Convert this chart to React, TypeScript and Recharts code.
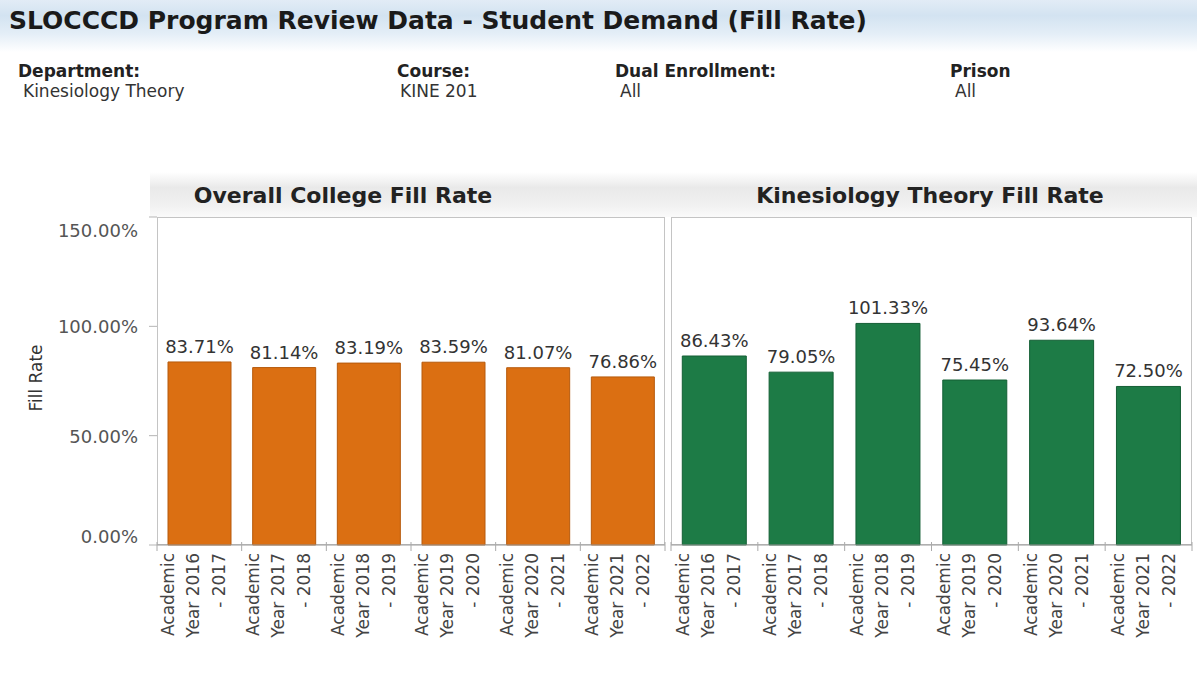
import { BarChart, Bar, XAxis, YAxis, LabelList } from 'recharts'

const FONT = '"DejaVu Sans", sans-serif'

// categories and values
const years = [
  'Academic Year 2016 - 2017',
  'Academic Year 2017 - 2018',
  'Academic Year 2018 - 2019',
  'Academic Year 2019 - 2020',
  'Academic Year 2020 - 2021',
  'Academic Year 2021 - 2022',
]
const collegeFillRate = [0.8371, 0.8114, 0.8319, 0.8359, 0.8107, 0.7686]
const kineFillRate = [0.8643, 0.7905, 1.0133, 0.7545, 0.9364, 0.725]
const yTicks = [0, 0.5, 1, 1.5]

const filterLabels = ['Department:', 'Course:', 'Dual Enrollment:', 'Prison']
const filterValues = ['Kinesiology Theory', 'KINE 201', 'All', 'All']

const pct = (v: number) => (v * 100).toFixed(2) + '%'

const collegeData = years.map((name, i) => ({ name, value: collegeFillRate[i] }))
const kineData = years.map((name, i) => ({ name, value: kineFillRate[i] }))

const YTick = (props: any) => {
  const { x, y, payload } = props
  let dy = 7
  if (payload.value === 1.5) dy = 20
  if (payload.value === 0) dy = -2
  return (
    <text x={x} y={y + dy} textAnchor="end" fontSize={18} fill="#555" fontFamily={FONT}>
      {pct(payload.value)}
    </text>
  )
}

// three line rotated labels + little tick marks on the band edges
const makeXTick = (band: number) => (props: any) => {
  const { x, y, payload, index } = props
  const m = String(payload.value).match(/^(\S+) (Year \d+) (- \d+)$/)
  const lines = m ? [m[1], m[2], m[3]] : [String(payload.value)]
  const offs = [-25, 0, 26]
  const axisY = y - 8
  return (
    <g>
      <line x1={x - band / 2} x2={x - band / 2} y1={axisY - 3} y2={axisY + 6} stroke="#aaa" />
      {index === years.length - 1 && (
        <line x1={x + band / 2} x2={x + band / 2} y1={axisY - 3} y2={axisY + 6} stroke="#aaa" />
      )}
      {lines.map((t, i) => (
        <text
          key={i}
          transform={`translate(${x + offs[i]},${y}) rotate(-90)`}
          textAnchor="end"
          fontSize={17}
          fill="#444"
          fontFamily={FONT}
        >
          {t}
        </text>
      ))}
    </g>
  )
}

const Backdrop = () => (
  <svg width={1197} height={681} style={{ position: 'absolute', left: 0, top: 0 }}>
    <defs>
      <linearGradient id="hdr" x1="0" y1="0" x2="0" y2="1">
        <stop offset="0%" stopColor="#e2ecf6" />
        <stop offset="30%" stopColor="#d3e3f1" />
        <stop offset="65%" stopColor="#e4eef7" />
        <stop offset="100%" stopColor="#ffffff" />
      </linearGradient>
      <linearGradient id="band" x1="0" y1="0" x2="0" y2="1">
        <stop offset="0%" stopColor="#ffffff" />
        <stop offset="35%" stopColor="#e9e9e9" />
        <stop offset="75%" stopColor="#f1f1f1" />
        <stop offset="100%" stopColor="#fafafa" />
      </linearGradient>
    </defs>
    <rect x={0} y={0} width={1197} height={52} fill="url(#hdr)" />
    <text x={9} y={28.5} fontSize={25} fontWeight="bold" fill="#1a1a1a" fontFamily={FONT}>
      SLOCCCD Program Review Data - Student Demand (Fill Rate)
    </text>
    {filterLabels.map((t, i) => (
      <text key={t} x={[18, 397, 615, 950][i]} y={77} fontSize={17} fontWeight="bold" fill="#222" fontFamily={FONT}>
        {t}
      </text>
    ))}
    {filterValues.map((t, i) => (
      <text key={i} x={[23, 400, 620, 955][i]} y={97} fontSize={17} fill="#333" fontFamily={FONT}>
        {t}
      </text>
    ))}
    <rect x={150} y={172} width={1047} height={45} fill="url(#band)" />
    <text x={343} y={203} textAnchor="middle" fontSize={22} fontWeight="bold" fill="#222" fontFamily={FONT}>
      Overall College Fill Rate
    </text>
    <text x={930} y={203} textAnchor="middle" fontSize={22} fontWeight="bold" fill="#222" fontFamily={FONT}>
      Kinesiology Theory Fill Rate
    </text>
    <rect x={157.5} y={217.5} width={507} height={327} fill="#fff" stroke="#c4c4c4" />
    <rect x={671.5} y={217.5} width={520} height={327} fill="#fff" stroke="#c4c4c4" />
    <text transform="translate(42,378) rotate(-90)" textAnchor="middle" fontSize={17} fill="#333" fontFamily={FONT}>
      Fill Rate
    </text>
  </svg>
)

export default function App() {
  return (
    <div style={{ position: 'absolute', left: 0, top: 0, width: 1197, height: 681, background: '#fff', overflow: 'hidden' }}>
      <Backdrop />
      <div style={{ position: 'absolute', left: 0, top: 0 }}>
        <BarChart
          width={668}
          height={681}
          data={collegeData}
          margin={{ top: 217, right: 3, left: 0, bottom: 16 }}
          barCategoryGap="13%"
        >
          <XAxis
            dataKey="name"
            height={120}
            interval={0}
            tickLine={false}
            tickSize={0}
            tickMargin={8}
            axisLine={{ stroke: '#9a9a9a' }}
            tick={makeXTick(508 / 6)}
          />
          <YAxis
            width={157}
            domain={[0, 1.5]}
            ticks={yTicks}
            axisLine={false}
            tickSize={8}
            tickMargin={11}
            tickLine={{ stroke: '#b5b5b5' }}
            tick={<YTick />}
          />
          <Bar dataKey="value" fill="#DB6F12" stroke="#b65a0c" strokeWidth={1} isAnimationActive={false}>
            <LabelList
              dataKey="value"
              position="top"
              offset={9}
              formatter={(v: any) => pct(Number(v))}
              style={{ fontSize: 18, fill: '#333', fontFamily: FONT }}
            />
          </Bar>
        </BarChart>
      </div>
      <div style={{ position: 'absolute', left: 668, top: 0 }}>
        <BarChart
          width={529}
          height={681}
          data={kineData}
          margin={{ top: 217, right: 5, left: 3, bottom: 16 }}
          barCategoryGap="13%"
        >
          <XAxis
            dataKey="name"
            height={120}
            interval={0}
            tickLine={false}
            tickSize={0}
            tickMargin={8}
            axisLine={{ stroke: '#9a9a9a' }}
            tick={makeXTick(521 / 6)}
          />
          <YAxis hide domain={[0, 1.5]} ticks={yTicks} />
          <Bar dataKey="value" fill="#1D7B46" stroke="#145f35" strokeWidth={1} isAnimationActive={false}>
            <LabelList
              dataKey="value"
              position="top"
              offset={9}
              formatter={(v: any) => pct(Number(v))}
              style={{ fontSize: 18, fill: '#333', fontFamily: FONT }}
            />
          </Bar>
        </BarChart>
      </div>
    </div>
  )
}
